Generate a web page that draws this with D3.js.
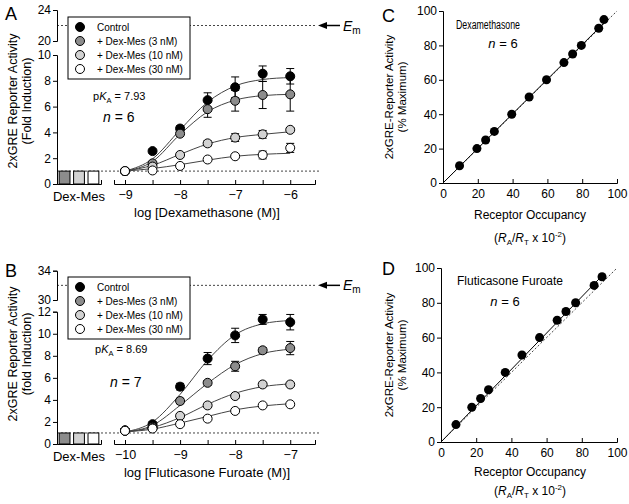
<!DOCTYPE html>
<html>
<head>
<meta charset="utf-8">
<script src="https://cdn.jsdelivr.net/npm/d3@7"></script>
<style>
  body { margin: 0; background: #fff; }
  svg text { font-family: "Liberation Sans", Arial, Helvetica, sans-serif; fill: #000; }
  .ref { stroke: #444; stroke-width: 1; stroke-dasharray: 2,2; }
</style>
</head>
<body>
<svg id="chart" width="629" height="504"></svg>
<script>
// ---- Panel A: dexamethasone +/- Dex-Mes ----
const dexLogConc = [-9, -8.5, -8, -7.5, -7, -6.5, -6];
const dexControl = [1.0, 2.55, 4.3, 6.5, 7.5, 8.55, 8.35];
const dexControlErr = [0.1, 0.15, 0.2, 0.57, 0.8, 0.6, 0.6];
const dexMes3 = [1.0, 1.6, 3.9, 5.8, 6.45, 6.9, 6.95];
const dexMes3Err = [0.1, 0.15, 0.2, 0.63, 0.8, 1.05, 1.3];
const dexMes10 = [1.0, 1.35, 2.25, 3.15, 3.6, 3.85, 4.2];
const dexMes10Err = [0.1, 0.1, 0.15, 0.2, 0.3, 0.3, 0.15];
const dexMes30 = [1.0, 1.05, 1.4, 1.9, 2.15, 2.25, 2.8];
const dexMes30Err = [0.1, 0.1, 0.1, 0.1, 0.1, 0.3, 0.35];
// fitted curves at each concentration
const dexControlFit = [1.0, 1.95, 4.2, 6.35, 7.6, 8.1, 8.25];
const dexMes3Fit = [1.0, 1.75, 3.85, 5.6, 6.5, 6.85, 6.95];
const dexMes10Fit = [1.0, 1.45, 2.3, 3.1, 3.6, 3.85, 4.05];
const dexMes30Fit = [1.0, 1.2, 1.5, 1.85, 2.15, 2.3, 2.38];
const dexXTicks = [-9, -8.5, -8, -7.5, -7, -6.5, -6];

// ---- Panel B: fluticasone furoate +/- Dex-Mes ----
const fluLogConc = [-10, -9.5, -9, -8.5, -8, -7.5, -7];
const fluControl = [1.25, 1.8, 5.2, 7.75, 9.85, 11.3, 11.05];
const fluControlErr = [0.1, 0.2, 0.3, 0.55, 0.65, 0.45, 0.7];
const fluMes3 = [1.2, 1.55, 3.9, 5.55, 7.05, 8.5, 8.7];
const fluMes3Err = [0.1, 0.1, 0.25, 0.2, 0.45, 0.25, 0.6];
const fluMes10 = [1.2, 1.45, 2.55, 3.5, 4.35, 5.4, 5.4];
const fluMes10Err = [0.1, 0.1, 0.15, 0.15, 0.2, 0.2, 0.2];
const fluMes30 = [1.2, 1.4, 1.8, 2.3, 3.0, 3.5, 3.6];
const fluMes30Err = [0.1, 0.1, 0.1, 0.1, 0.1, 0.1, 0.1];
const fluControlFit = [1.1, 2.0, 4.5, 7.6, 9.9, 10.9, 11.2];
const fluMes3Fit = [1.1, 1.7, 3.5, 5.5, 7.2, 8.2, 8.6];
const fluMes10Fit = [1.1, 1.5, 2.4, 3.6, 4.6, 5.2, 5.45];
const fluMes30Fit = [1.1, 1.35, 1.9, 2.5, 3.1, 3.45, 3.65];
const fluXTicks = [-10, -9.5, -9, -8.5, -8, -7.5, -7];

// Dex-Mes alone bars
const dexMesDoses = ["3 nM", "10 nM", "30 nM"];
const dexMesAloneA = [1.0, 1.0, 1.0];
const dexMesAloneB = [1.0, 1.0, 1.0];

const legendA = ["Control", "+ Dex-Mes (3 nM)", "+ Dex-Mes (10 nM)", "+ Dex-Mes (30 nM)"];
const legendB = ["Control", "+ Des-Mes (3 nM)", "+ Dex-Mes (10 nM)", "+ Dex-Mes (30 nM)"];
const seriesFills = ["#000000", "#8c8c8c", "#d2d2d2", "#ffffff"];

// ---- Panels C & D: activity vs occupancy ----
const dexOccupancy = [9.5, 19.5, 24.5, 29.5, 39.5, 49.5, 59.5, 69.5, 74.5, 79.5, 89.5, 92.5];
const dexActivity = [10, 20, 25, 30, 40, 50, 60, 70, 75, 80, 90, 95];
const fluOccupancy = [8.5, 17.5, 22.5, 27, 36.5, 46, 56, 66, 71, 76.5, 87, 91.5];
const fluActivity = [10, 20, 25, 30, 40, 50, 60, 70, 75, 80, 90, 95];
const dexFitOcc = [0, 93];
const dexFitAct = [0, 93.5];
const fluFitOcc = [0, 92];
const fluFitAct = [0, 96];
const identityLine = [0, 100];
const pctTicks = [0, 20, 40, 60, 80, 100];

const svg = d3.select('#chart');

function styleAxis(sel, size) {
  sel.attr('font-size', size);
  sel.selectAll('path, line').attr('stroke', '#000');
}

function drawDoseResponse(p) {
  const g = svg.append('g');
  const x = d3.scaleLinear().domain(p.xDomain).range([114, 315]);
  const yLo = d3.scaleLinear().domain(p.yLoDomain).range(p.yLoRange);
  const yHi = d3.scaleLinear().domain(p.yHiDomain).range(p.yHiRange);
  const base = p.yLoRange[0];

  // dotted reference lines (baseline = 1, Em)
  g.append('line').attr('class', 'ref')
    .attr('x1', 57).attr('x2', 320).attr('y1', yLo(1)).attr('y2', yLo(1));
  g.append('line').attr('class', 'ref')
    .attr('x1', 57).attr('x2', 317).attr('y1', yHi(p.em)).attr('y2', yHi(p.em));

  // Em arrow + label
  const ey = yHi(p.em);
  g.append('line').attr('x1', 324).attr('x2', 340).attr('y1', ey).attr('y2', ey)
    .attr('stroke', '#000').attr('stroke-width', 1.5);
  g.append('path').attr('d', `M318,${ey} L327,${ey - 3.5} L327,${ey + 3.5} Z`).attr('fill', '#000');
  const em = g.append('text').attr('x', 343).attr('y', ey + 5).attr('font-size', 14);
  em.append('tspan').attr('font-style', 'italic').text('E');
  em.append('tspan').attr('font-size', 10).attr('dy', 3).text('m');

  // y axes (broken)
  const fmt = d3.format('d');
  g.append('g').attr('transform', 'translate(57,0)')
    .call(d3.axisLeft(yLo).tickValues(p.yLoTicks).tickFormat(fmt).tickSize(4).tickPadding(2))
    .call(s => styleAxis(s, 12));
  g.append('g').attr('transform', 'translate(57,0)')
    .call(d3.axisLeft(yHi).tickValues(p.yHiTicks).tickFormat(fmt).tickSize(4).tickPadding(2))
    .call(s => styleAxis(s, 12));

  // x axis
  g.append('g').attr('transform', `translate(0,${base})`)
    .call(d3.axisBottom(x).tickValues(p.xTicks)
      .tickFormat(d => Number.isInteger(d) ? fmt(d) : '')
      .tickSizeInner(-4).tickSizeOuter(-4).tickPadding(6))
    .call(s => styleAxis(s, 12.5));

  // Dex-Mes alone bars
  const bx = d3.scaleBand().domain(dexMesDoses).range([57, 101]).paddingInner(0.25).paddingOuter(0.15);
  g.append('g').attr('transform', `translate(0,${base})`)
    .call(d3.axisBottom(bx).tickValues([]).tickSizeOuter(-4))
    .call(s => styleAxis(s, 12));
  g.selectAll('.bar').data(p.bars).enter().append('rect')
    .attr('x', (d, i) => bx(dexMesDoses[i]))
    .attr('width', bx.bandwidth())
    .attr('y', d => yLo(d))
    .attr('height', d => yLo(0) - yLo(d))
    .attr('fill', (d, i) => seriesFills[i + 1])
    .attr('stroke', '#000').attr('stroke-width', 1);
  g.append('text').attr('x', 79).attr('y', base + 17).attr('text-anchor', 'middle')
    .attr('font-size', 13).text('Dex-Mes');

  // fitted curves
  const line = d3.line().x((d, i) => x(p.logConc[i])).y(d => yLo(d)).curve(d3.curveMonotoneX);
  p.series.forEach(s => {
    g.append('path').attr('d', line(s.fit)).attr('fill', 'none')
      .attr('stroke', '#444').attr('stroke-width', 1);
  });

  // error bars + points
  p.series.forEach((s, k) => {
    const eg = g.append('g').attr('stroke', '#000').attr('stroke-width', 1);
    s.values.forEach((v, i) => {
      const cx = x(p.logConc[i]);
      const e = s.err[i];
      eg.append('line').attr('x1', cx).attr('x2', cx).attr('y1', yLo(v - e)).attr('y2', yLo(v + e));
      eg.append('line').attr('x1', cx - 4).attr('x2', cx + 4).attr('y1', yLo(v + e)).attr('y2', yLo(v + e));
      eg.append('line').attr('x1', cx - 4).attr('x2', cx + 4).attr('y1', yLo(v - e)).attr('y2', yLo(v - e));
    });
    g.selectAll(null).data(s.values).enter().append('circle')
      .attr('cx', (d, i) => x(p.logConc[i]))
      .attr('cy', d => yLo(d))
      .attr('r', 4.5)
      .attr('fill', seriesFills[k])
      .attr('stroke', '#000').attr('stroke-width', 1);
  });

  // legend
  const lg = g.append('g');
  lg.append('rect').attr('x', 68).attr('y', p.legendTop).attr('width', 122).attr('height', 62)
    .attr('fill', '#fff').attr('stroke', '#000').attr('stroke-width', 1);
  p.legend.forEach((name, i) => {
    const ly = p.legendTop + 10 + i * 14;
    lg.append('circle').attr('cx', 80).attr('cy', ly).attr('r', 4.5)
      .attr('fill', seriesFills[i]).attr('stroke', '#000');
    lg.append('text').attr('x', 97).attr('y', ly + 3.5).attr('font-size', 10).text(name);
  });

  // pKA and n
  const pk = g.append('text').attr('x', p.pkPos[0]).attr('y', p.pkPos[1]).attr('font-size', 11);
  pk.append('tspan').text('p');
  pk.append('tspan').attr('font-style', 'italic').text('K');
  pk.append('tspan').attr('font-size', 7.5).attr('dy', 3).text('A');
  pk.append('tspan').attr('dy', -3).text(' = ' + p.pka);
  const nt = g.append('text').attr('x', p.nPos[0]).attr('y', p.nPos[1]).attr('font-size', 14);
  nt.append('tspan').attr('font-style', 'italic').text('n');
  nt.append('tspan').text(' = ' + p.n);

  // titles
  g.append('text').attr('x', 5).attr('y', p.letterY).attr('font-size', 18).text(p.letter);
  g.append('text').attr('transform', `translate(17,${p.yTitleMid}) rotate(-90)`)
    .attr('text-anchor', 'middle').attr('font-size', 12.5).text('2xGRE Reporter Activity');
  g.append('text').attr('transform', `translate(31,${p.yTitleMid}) rotate(-90)`)
    .attr('text-anchor', 'middle').attr('font-size', 12.5).text(p.yTitle2);
  g.append('text').attr('x', 207).attr('y', base + 33).attr('text-anchor', 'middle')
    .attr('font-size', 13).text(p.xTitle);
}

function drawCorrelation(p) {
  const g = svg.append('g');
  const x = d3.scaleLinear().domain([0, 100]).range(p.xRange);
  const y = d3.scaleLinear().domain([0, 100]).range(p.yRange);

  g.append('g').attr('transform', `translate(${p.xRange[0]},0)`)
    .call(d3.axisLeft(y).tickValues(pctTicks).tickSize(4).tickPadding(2))
    .call(s => styleAxis(s, 12));
  g.append('g').attr('transform', `translate(0,${p.yRange[0]})`)
    .call(d3.axisBottom(x).tickValues(pctTicks).tickSizeInner(-4).tickSizeOuter(-4).tickPadding(6))
    .call(s => styleAxis(s, 12));

  const ln = d3.line().x(d => x(d[0])).y(d => y(d[1]));
  g.append('path').attr('class', 'ref').attr('fill', 'none')
    .attr('d', ln(identityLine.map(v => [v, v])));
  g.append('path').attr('fill', 'none').attr('stroke', '#000').attr('stroke-width', 1)
    .attr('d', ln(p.fitOcc.map((v, i) => [v, p.fitAct[i]])));

  g.selectAll(null).data(p.act).enter().append('circle')
    .attr('cx', (d, i) => x(p.occ[i]))
    .attr('cy', d => y(d))
    .attr('r', 4.5).attr('fill', '#000');

  g.append('text').attr('x', 382).attr('y', p.letterY).attr('font-size', 18).text(p.letter);
  const nameT = g.append('text').attr('x', p.namePos[0]).attr('y', p.namePos[1])
    .attr('text-anchor', 'middle').attr('font-size', 12).text(p.name);
  if (p.nameLen) nameT.attr('textLength', p.nameLen).attr('lengthAdjust', 'spacingAndGlyphs');
  const nt = g.append('text').attr('x', p.nPos[0]).attr('y', p.nPos[1])
    .attr('text-anchor', 'middle').attr('font-size', 13);
  nt.append('tspan').attr('font-style', 'italic').text('n');
  nt.append('tspan').text(' = 6');

  const ymid = (p.yRange[0] + p.yRange[1]) / 2;
  g.append('text').attr('transform', `translate(393,${ymid}) rotate(-90)`)
    .attr('text-anchor', 'middle').attr('font-size', 11.5).text('2xGRE-Reporter Activity');
  g.append('text').attr('transform', `translate(406,${ymid}) rotate(-90)`)
    .attr('text-anchor', 'middle').attr('font-size', 11.5).text('(% Maximum)');

  const xmid = 530;
  g.append('text').attr('x', xmid).attr('y', p.yRange[0] + p.titleOffsets[0]).attr('text-anchor', 'middle')
    .attr('font-size', 12).text('Receptor Occupancy');
  const sub = g.append('text').attr('x', xmid).attr('y', p.yRange[0] + p.titleOffsets[1])
    .attr('text-anchor', 'middle').attr('font-size', 12);
  sub.append('tspan').text('(');
  sub.append('tspan').attr('font-style', 'italic').text('R');
  sub.append('tspan').attr('font-size', 8).attr('dy', 3).text('A');
  sub.append('tspan').attr('dy', -3).text('/');
  sub.append('tspan').attr('font-style', 'italic').text('R');
  sub.append('tspan').attr('font-size', 8).attr('dy', 3).text('T');
  sub.append('tspan').attr('dy', -3).text(' x 10');
  sub.append('tspan').attr('font-size', 8).attr('dy', -5).text('-2');
  sub.append('tspan').attr('dy', 5).text(')');
}

drawDoseResponse({
  letter: 'A', letterY: 20,
  xDomain: [-9.2, -5.55], logConc: dexLogConc, xTicks: dexXTicks,
  yLoDomain: [0, 10], yLoRange: [184, 55], yLoTicks: [0, 2, 4, 6, 8, 10],
  yHiDomain: [20, 24], yHiRange: [41, 10], yHiTicks: [20, 24],
  em: 22,
  bars: dexMesAloneA,
  series: [
    { values: dexControl, err: dexControlErr, fit: dexControlFit },
    { values: dexMes3, err: dexMes3Err, fit: dexMes3Fit },
    { values: dexMes10, err: dexMes10Err, fit: dexMes10Fit },
    { values: dexMes30, err: dexMes30Err, fit: dexMes30Fit }
  ],
  legend: legendA, legendTop: 17,
  pka: '7.93', pkPos: [93, 100], n: 6, nPos: [103, 122],
  yTitleMid: 101, yTitle2: '(Fold Induction)',
  xTitle: 'log [Dexamethasone (M)]'
});

drawDoseResponse({
  letter: 'B', letterY: 277,
  xDomain: [-10.2, -6.55], logConc: fluLogConc, xTicks: fluXTicks,
  yLoDomain: [0, 12], yLoRange: [444, 311.7], yLoTicks: [0, 2, 4, 6, 8, 10, 12],
  yHiDomain: [30, 34], yHiRange: [300, 270.7], yHiTicks: [30, 34],
  em: 32,
  bars: dexMesAloneB,
  series: [
    { values: fluControl, err: fluControlErr, fit: fluControlFit },
    { values: fluMes3, err: fluMes3Err, fit: fluMes3Fit },
    { values: fluMes10, err: fluMes10Err, fit: fluMes10Fit },
    { values: fluMes30, err: fluMes30Err, fit: fluMes30Fit }
  ],
  legend: legendB, legendTop: 277,
  pka: '8.69', pkPos: [95, 353], n: 7, nPos: [110, 387],
  yTitleMid: 354, yTitle2: '(fold Induction)',
  xTitle: 'log [Fluticasone Furoate (M)]'
});

drawCorrelation({
  letter: 'C', letterY: 22,
  xRange: [443, 617], yRange: [183, 11],
  occ: dexOccupancy, act: dexActivity, fitOcc: dexFitOcc, fitAct: dexFitAct,
  name: 'Dexamethasone', namePos: [488, 29], nameLen: 64, nPos: [503, 48],
  titleOffsets: [36, 59]
});

drawCorrelation({
  letter: 'D', letterY: 275,
  xRange: [441, 617], yRange: [442, 268],
  occ: fluOccupancy, act: fluActivity, fitOcc: fluFitOcc, fitAct: fluFitAct,
  name: 'Fluticasone Furoate', namePos: [510, 285], nPos: [505, 306],
  titleOffsets: [34, 53]
});
</script>
</body>
</html>
